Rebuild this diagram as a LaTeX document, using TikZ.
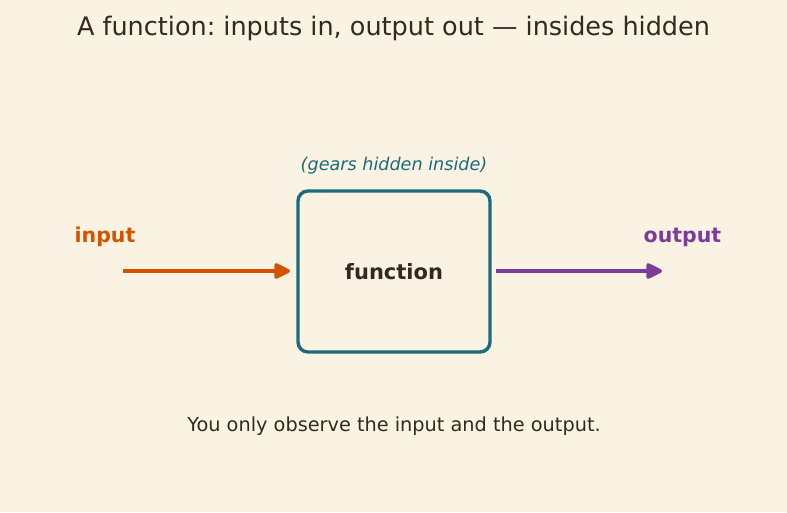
\documentclass[tikz,border=0pt]{standalone}
\usepackage{fontspec}
\setmainfont{DejaVu Sans}
\usetikzlibrary{arrows.meta}
\definecolor{bg}{HTML}{FAF3E3}
\definecolor{ink}{HTML}{33291F}
\definecolor{teal}{HTML}{1C6B7A}
\definecolor{inorange}{HTML}{D35400}
\definecolor{outpurple}{HTML}{7D3C98}
\tikzset{
  lbl/.style={font=\fontsize{20.5}{24}\selectfont\bfseries},
  arr/.style={line width=3.6pt, -{Triangle[length=18pt,width=17pt,round]}},
}
\frenchspacing
\begin{document}
\begin{tikzpicture}[x=1pt,y=-1pt]
\fill[bg] (0,0) rectangle (787,512);
\useasboundingbox (0,0) rectangle (787,512);
\node[text=ink, font=\fontsize{25.5}{30}\selectfont] (title) at (393.5,28) {A function: inputs in, output out — insides hidden};
\node[draw=teal, line width=3.4pt, rounded corners=10pt, minimum width=192pt, minimum height=161pt, inner sep=0pt] (fn) at (394,271.5) {};
\node[text=ink, font=\fontsize{21}{24}\selectfont\bfseries] (fnl) at (fn.center) {function};
\node[text=teal, font=\fontsize{17.6}{21}\selectfont\itshape] (hid) at (394,165.5) {(gears hidden inside)};
\coordinate (in0) at (123,271);
\coordinate (in1) at (290,271);
\coordinate (out0) at (496,271);
\coordinate (out1) at (662,271);
\draw[arr, inorange] (in0) -- (in1);
\draw[arr, outpurple] (out0) -- (out1);
\node[lbl, text=inorange] (inl) at (105,236.5) {input};
\node[lbl, text=outpurple] (outl) at (682.5,237) {output};
\node[text=ink, font=\fontsize{19.3}{23}\selectfont] (note) at (394,426) {You only observe the input and the output.};
\end{tikzpicture}
\end{document}
